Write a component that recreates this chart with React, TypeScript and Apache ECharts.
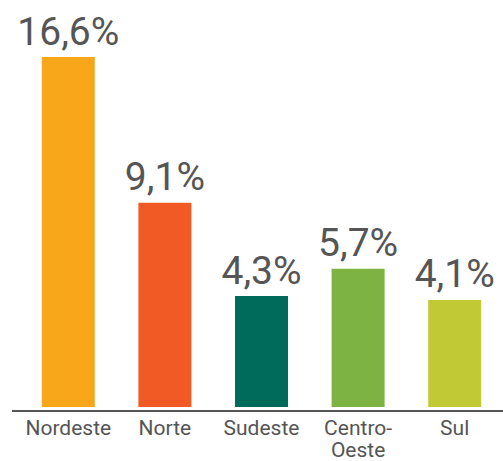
import React, { useEffect, useRef } from "react";
import * as echarts from "echarts";

const categories = ["Nordeste", "Norte", "Sudeste", "Centro-\nOeste", "Sul"];
const values = [16.6, 9.1, 4.3, 5.7, 4.1];
const colors = ["#F8A71B", "#F15A24", "#006B5A", "#7CB342", "#C1CA34"];

export default function App() {
  const ref = useRef<HTMLDivElement>(null);
  useEffect(() => {
    const chart = echarts.init(ref.current!, null, { renderer: "svg" });
    chart.setOption({
      animation: false,
      grid: { left: 20, right: 0, top: 57, bottom: 50 },
      xAxis: {
        type: "category",
        data: categories,
        axisLine: { show: false },
        axisTick: { show: false },
        axisLabel: {
          color: "#555",
          fontFamily: "Roboto",
          fontSize: 21,
          lineHeight: 22,
          margin: 10,
          interval: 0,
        },
      },
      yAxis: {
        type: "value",
        min: -1.41,
        max: 16.6,
        startValue: -1.41,
        show: false,
        splitLine: { show: false },
      },
      graphic: [
        {
          type: "line",
          shape: { x1: 12, y1: 411, x2: 503, y2: 411 },
          style: { stroke: "#555", lineWidth: 2 },
        },
      ],
      series: [
        {
          type: "bar",
          barWidth: 53,
          data: values.map((v, i) => ({ value: v, itemStyle: { color: colors[i] } })),
          label: {
            show: true,
            position: "top",
            distance: 6,
            color: "#555",
            fontFamily: "Roboto",
            fontSize: 39,
            formatter: (p: any) => String(p.value).replace(".", ",") + "%",
          },
        },
      ],
    });
    return () => chart.dispose();
  }, []);
  return <div ref={ref} style={{ width: 503, height: 461, position: "absolute", left: 0, top: 0 }} />;
}
